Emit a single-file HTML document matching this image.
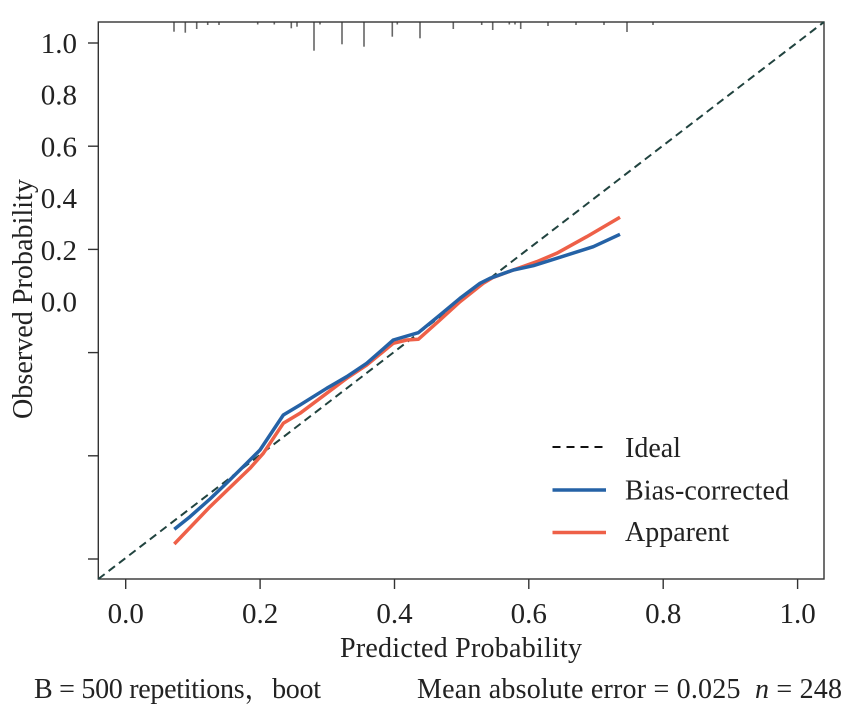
<!DOCTYPE html>
<html>
<head>
<meta charset="utf-8">
<style>
html,body{margin:0;padding:0;background:#fff;}
svg{display:block;}
text{font-family:"Liberation Serif","Noto Serif CJK SC",serif;fill:#222;}
</style>
</head>
<body>
<svg width="845" height="704" viewBox="0 0 845 704" xmlns="http://www.w3.org/2000/svg">
  <rect x="0" y="0" width="845" height="704" fill="#fff"/>

  <!-- rug ticks at top -->
  <g stroke="#666" stroke-width="1.6">
    <line x1="174" y1="22" x2="174" y2="31.7"/>
    <line x1="185.3" y1="22" x2="185.3" y2="32.7"/>
    <line x1="196.7" y1="22" x2="196.7" y2="29"/>
    <line x1="207.7" y1="22" x2="207.7" y2="25"/>
    <line x1="219" y1="22" x2="219" y2="25"/>
    <line x1="257.7" y1="22" x2="257.7" y2="24.5"/>
    <line x1="274.3" y1="22" x2="274.3" y2="24.5"/>
    <line x1="291.3" y1="22" x2="291.3" y2="28.3"/>
    <line x1="297" y1="22" x2="297" y2="26.7"/>
    <line x1="314" y1="22" x2="314" y2="50.7"/>
    <line x1="320" y1="22" x2="320" y2="24.5"/>
    <line x1="342" y1="22" x2="342" y2="44.3"/>
    <line x1="364" y1="22" x2="364" y2="46.7"/>
    <line x1="392.3" y1="22" x2="392.3" y2="36.7"/>
    <line x1="397.3" y1="22" x2="397.3" y2="24.5"/>
    <line x1="420" y1="22" x2="420" y2="38.3"/>
    <line x1="453.3" y1="22" x2="453.3" y2="29"/>
    <line x1="481.7" y1="22" x2="481.7" y2="25"/>
    <line x1="492.7" y1="22" x2="492.7" y2="30"/>
    <line x1="509.3" y1="22" x2="509.3" y2="24.5"/>
    <line x1="515" y1="22" x2="515" y2="24.5"/>
    <line x1="520.7" y1="22" x2="520.7" y2="29"/>
    <line x1="548" y1="22" x2="548" y2="26"/>
    <line x1="576" y1="22" x2="576" y2="25"/>
    <line x1="604" y1="22" x2="604" y2="25"/>
    <line x1="627" y1="22" x2="627" y2="32"/>
    <line x1="653" y1="22" x2="653" y2="25"/>
  </g>

  <!-- plot box -->
  <rect x="98.3" y="22" width="725.7" height="557" fill="none" stroke="#333" stroke-width="1.4"/>

  <!-- y ticks -->
  <g stroke="#333" stroke-width="1.4">
    <line x1="88" y1="43" x2="98.3" y2="43"/>
    <line x1="88" y1="146.2" x2="98.3" y2="146.2"/>
    <line x1="88" y1="249.4" x2="98.3" y2="249.4"/>
    <line x1="88" y1="352.6" x2="98.3" y2="352.6"/>
    <line x1="88" y1="455.8" x2="98.3" y2="455.8"/>
    <line x1="88" y1="559" x2="98.3" y2="559"/>
  </g>
  <!-- x ticks -->
  <g stroke="#333" stroke-width="1.4">
    <line x1="125.7" y1="579" x2="125.7" y2="589"/>
    <line x1="260.1" y1="579" x2="260.1" y2="589"/>
    <line x1="394.5" y1="579" x2="394.5" y2="589"/>
    <line x1="528.8" y1="579" x2="528.8" y2="589"/>
    <line x1="663.2" y1="579" x2="663.2" y2="589"/>
    <line x1="797.6" y1="579" x2="797.6" y2="589"/>
  </g>

  <!-- y tick labels -->
  <g font-size="29" text-anchor="end">
    <text x="77" y="53">1.0</text>
    <text x="77" y="104.5">0.8</text>
    <text x="77" y="156.5">0.6</text>
    <text x="77" y="208">0.4</text>
    <text x="77" y="260">0.2</text>
    <text x="77" y="311.5">0.0</text>
  </g>

  <!-- x tick labels -->
  <g font-size="29" text-anchor="middle">
    <text x="125.7" y="623">0.0</text>
    <text x="260.1" y="623">0.2</text>
    <text x="394.5" y="623">0.4</text>
    <text x="528.8" y="623">0.6</text>
    <text x="663.2" y="623">0.8</text>
    <text x="797.6" y="623">1.0</text>
  </g>

  <!-- axis titles -->
  <text x="461" y="657" font-size="28" text-anchor="middle" textLength="242">Predicted Probability</text>
  <text transform="translate(32,299) rotate(-90)" font-size="28" text-anchor="middle" textLength="240">Observed Probability</text>

  <!-- ideal diagonal -->
  <line x1="98.3" y1="579" x2="824" y2="22" stroke="#21433f" stroke-width="2" stroke-dasharray="8,5"/>

  <!-- apparent (red) -->
  <polyline fill="none" stroke="#ee6048" stroke-width="3.5" stroke-linejoin="round" stroke-linecap="butt"
    points="174.3,544 210,506.7 250,468.3 263.3,453.3 283.3,423.3 300,413.3 326.7,393.3 346.7,378.3 366.7,365 393.3,343.3 406.7,340 418.3,339.3 440,320 460,301.7 483.3,283.3 493.3,277.3 513.3,270 536.7,261.7 556.7,253.3 586.7,236.7 620,217.3"/>

  <!-- bias-corrected (blue) -->
  <polyline fill="none" stroke="#2562a6" stroke-width="3.5" stroke-linejoin="round" stroke-linecap="butt"
    points="174.3,529.3 190,516.7 210,499 226.7,483 246.7,463.3 260,450 283.3,415 300,405 326.7,388.3 346.7,376.7 366.7,363.3 393.3,340 418.3,332.7 440,315 460,298.3 480,283.3 490,278.3 513.3,270 533.3,265.7 556.7,258.3 593.3,246.7 620,234.3"/>

  <!-- legend -->
  <line x1="552.5" y1="447" x2="606" y2="447" stroke="#111" stroke-width="2" stroke-dasharray="8,6"/>
  <line x1="552.5" y1="490" x2="606" y2="490" stroke="#2562a6" stroke-width="3.4"/>
  <line x1="552.5" y1="532.5" x2="606" y2="532.5" stroke="#ee6048" stroke-width="3.4"/>
  <g font-size="28">
    <text x="625" y="457">Ideal</text>
    <text x="625" y="499.5" textLength="164">Bias-corrected</text>
    <text x="625" y="541">Apparent</text>
  </g>

  <!-- bottom annotations -->
  <text x="34" y="698" font-size="28" textLength="287">B = 500 repetitions，boot</text>
  <text x="417" y="698" font-size="28" textLength="425">Mean absolute error = 0.025&#160;&#160;<tspan font-style="italic">n</tspan> = 248</text>
</svg>
</body>
</html>
